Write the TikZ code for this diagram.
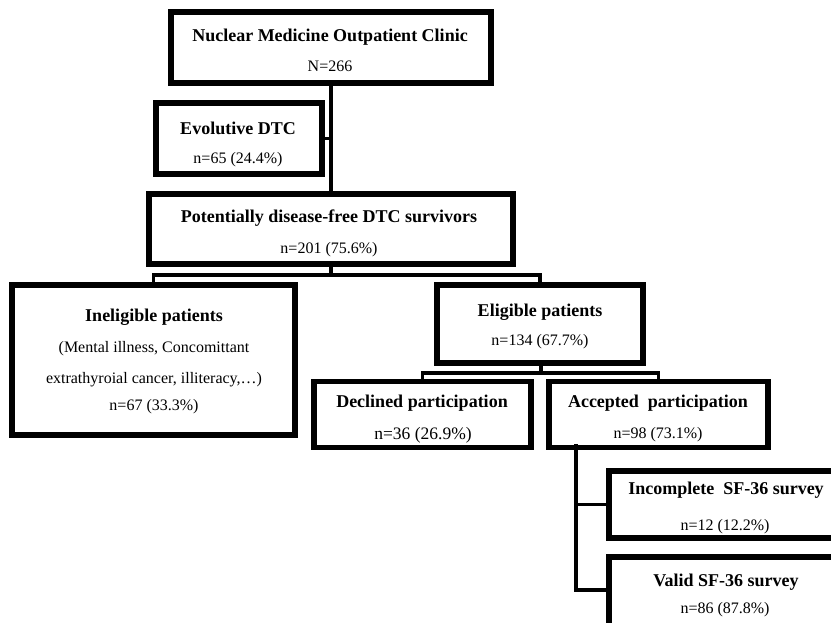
\documentclass[tikz,border=0pt]{standalone}
\usepackage{fontspec}
\setmainfont{Liberation Serif}
\begin{document}
\begin{tikzpicture}[x=1pt,y=-1pt,
  box/.style={draw=black,line width=3.6pt,fill=white,inner sep=0pt,rectangle},
  conn/.style={line width=3.4pt,line cap=rect},
  bt/.style={font=\fontsize{18}{20}\selectfont\bfseries,inner sep=0pt},
  rt/.style={font=\fontsize{16}{18}\selectfont,inner sep=0pt},
  rtl/.style={font=\fontsize{17.5}{19}\selectfont,inner sep=0pt}]
\useasboundingbox (0,0) rectangle (831,622);
\begin{scope}
\clip (0,0) rectangle (831,622);
\node[box,minimum width=318pt,minimum height=69pt] (top) at (331,47.5) {};
\node[box,minimum width=164pt,minimum height=69pt] (evo) at (239,138.5) {};
\node[box,minimum width=362pt,minimum height=68pt] (pot) at (331,229) {};
\node[box,minimum width=281pt,minimum height=148pt] (inel) at (153.5,360) {};
\node[box,minimum width=204pt,minimum height=76pt] (eli) at (540,324) {};
\node[box,minimum width=215pt,minimum height=64pt] (dec) at (422.5,414.5) {};
\node[box,minimum width=217pt,minimum height=64pt] (acc) at (658.5,414.5) {};
\node[box,minimum width=240pt,minimum height=65pt] (inc) at (730,504.5) {};
\node[box,minimum width=240pt,minimum height=100pt] (val) at (730,608) {};
\coordinate (j1) at (331,275);
\coordinate (j2) at (541,373);
\coordinate (j3) at (576,446);
\coordinate (j4) at (576,590);
\draw[conn] (top.south) -- (pot.north);
\draw[conn] (evo.east) -- (evo.east -| top.south);
\draw[conn] (pot.south) -- (j1);
\draw[conn] (inel.north) |- (j1) -| (eli.north);
\draw[conn] (eli.south -| j2) -- (j2);
\draw[conn] (dec.north) |- (j2) -| (acc.north);
\draw[conn] (j3) -- (j4) -- (j4 -| val.west);
\draw[conn] (inc.west -| j3) -- (inc.west);
\foreach \n in {top,evo,pot,inel,eli,dec,acc,inc,val}{
  \draw[line width=3.6pt] (\n.north west) rectangle (\n.south east);
}
\node[bt] (t1) at (330,37) {Nuclear Medicine Outpatient Clinic};
\node[rt] (t2) at (330,66) {N=266};
\node[bt] (t3) at (238,128) {Evolutive DTC};
\node[rt] (t4) at (238,160) {n=65 (24.4\%)};
\node[bt] (t5) at (329,218) {Potentially disease-free DTC survivors};
\node[rt] (t6) at (329,250) {n=201 (75.6\%)};
\node[bt] (t7) at (154,317) {Ineligible patients};
\node[rt] (t8) at (154,349) {(Mental illness, Concomittant};
\node[rt] (t9) at (154,380) {extrathyroial cancer, illiteracy,…)};
\node[rt] (t10) at (154,407) {n=67 (33.3\%)};
\node[bt] (t11) at (540,312) {Eligible patients};
\node[rt] (t12) at (540,342) {n=134 (67.7\%)};
\node[bt] (t13) at (422,403) {Declined participation};
\node[rtl] (t14) at (423,435) {n=36 (26.9\%)};
\node[bt] (t15) at (658,403) {Accepted\ \ participation};
\node[rt] (t16) at (658,435) {n=98 (73.1\%)};
\node[bt] (t17) at (726,490) {Incomplete\ \ SF-36 survey};
\node[rt] (t18) at (725,527) {n=12 (12.2\%)};
\node[bt] (t19) at (726,582) {Valid SF-36 survey};
\node[rt] (t20) at (725,610) {n=86 (87.8\%)};
\end{scope}
\end{tikzpicture}
\end{document}
